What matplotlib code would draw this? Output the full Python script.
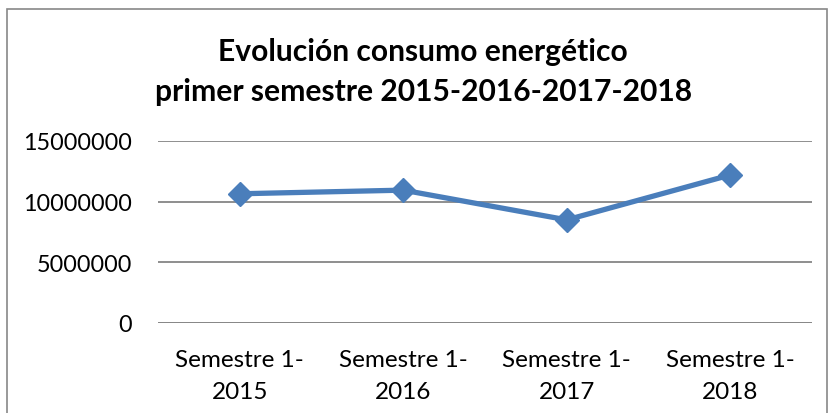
import matplotlib
matplotlib.use("Agg")
import matplotlib.pyplot as plt
from matplotlib.patches import Rectangle

categories = ["Semestre 1-\n2015", "Semestre 1-\n2016", "Semestre 1-\n2017", "Semestre 1-\n2018"]
consumo = [10650000, 10950000, 8500000, 12200000]
yticks = [0, 5000000, 10000000, 15000000]
title = "Evolución consumo energético\nprimer semestre 2015-2016-2017-2018"

plt.rcParams['font.family'] = ['Lato', 'DejaVu Sans']

fig = plt.figure(figsize=(8.30, 4.14), dpi=100)
W, H = 830, 414
left, right, top, bottom = 158, 812, 142, 324
ax = fig.add_axes([left / W, 1 - bottom / H, (right - left) / W, (bottom - top) / H])

xs = list(range(len(categories)))
ax.plot(xs, consumo, color="#4A7EBB", lw=3.8, marker="D", markersize=12,
        markeredgecolor="#4A7EBB", markerfacecolor="#4A7EBB", zorder=3, clip_on=False)

ax.set_xlim(-0.5, len(categories) - 0.5)
ax.set_ylim(0, 15000000)
ax.set_yticks(yticks)
ax.set_yticklabels([str(v) for v in yticks], fontsize=16.8)
ax.set_xticks(xs)
ax.set_xticklabels(categories, linespacing=1.6, fontsize=17.5)
for s in ax.spines.values():
    s.set_visible(False)
ax.grid(axis="y", color="#868686", lw=1.3)
ax.axhline(0, color="#868686", lw=1.8, zorder=2)
ax.set_axisbelow(True)
ax.tick_params(axis="both", length=0, colors="black")
ax.tick_params(axis="y", pad=19)
ax.tick_params(axis="x", pad=19)

fig.text(0.510, 1 - 72 / H, title, ha="center", va="center", fontsize=21.6,
         fontweight="bold", linespacing=1.5)

fig.patches.append(Rectangle((7 / W, -0.1), (827 - 7) / W, (1 - 10 / H) + 0.1,
                             transform=fig.transFigure, fill=False,
                             edgecolor="#888888", lw=1.2))

fig.savefig("out.png", dpi=100)
